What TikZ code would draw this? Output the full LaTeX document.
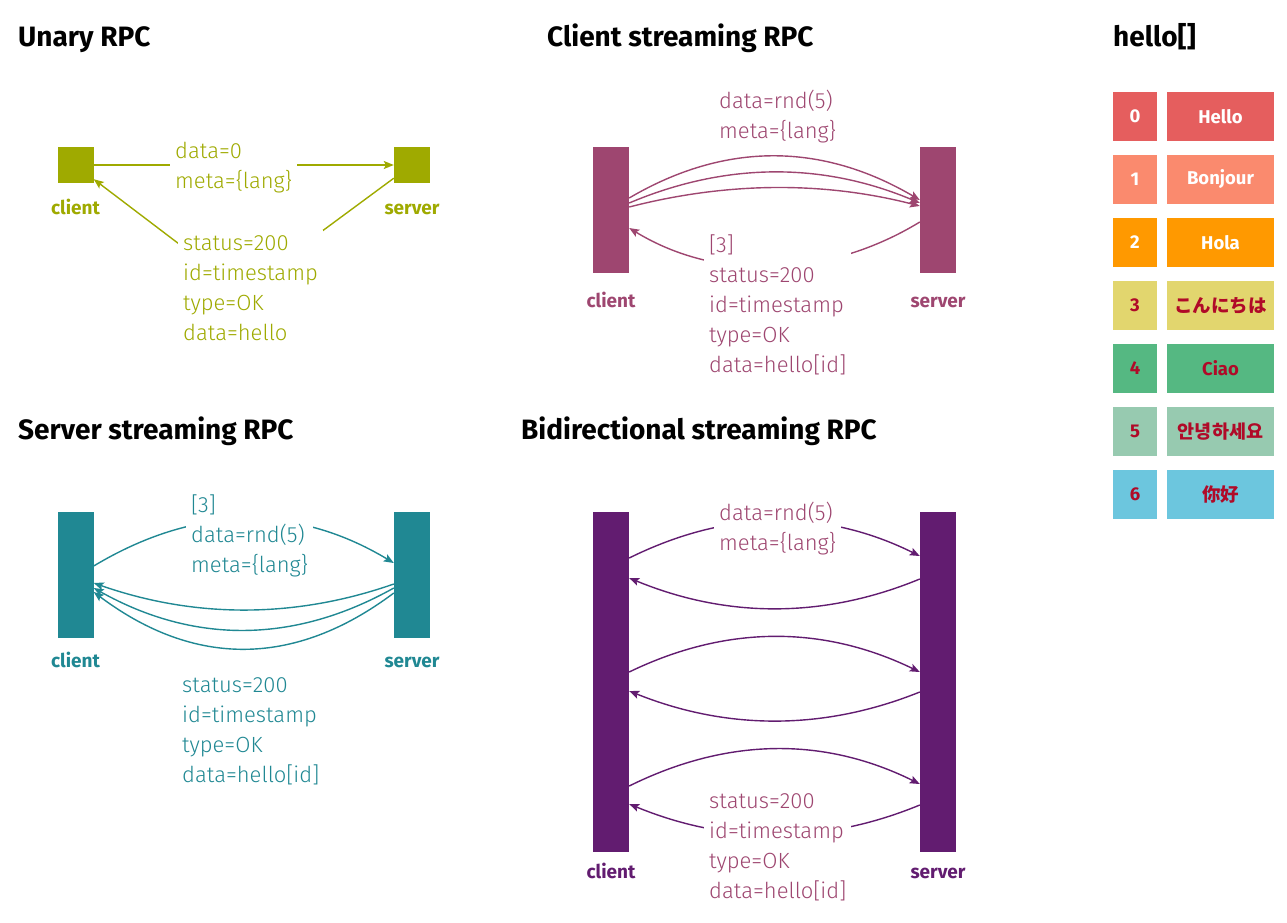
\documentclass[tikz,border=0pt]{standalone}
\usepackage{fontspec}
\setmainfont{Fira Sans Light}[BoldFont={Fira Sans Bold}]
\newfontfamily\cjk{Noto Sans CJK SC}
\usetikzlibrary{arrows.meta}
\definecolor{cUn}{RGB}{159,170,0}
\definecolor{cCs}{RGB}{158,70,112}
\definecolor{cSs}{RGB}{32,136,147}
\definecolor{cBi}{RGB}{98,28,112}
\definecolor{h0}{RGB}{229,94,94}
\definecolor{h1}{RGB}{250,138,110}
\definecolor{h2}{RGB}{255,153,0}
\definecolor{h3}{RGB}{226,214,110}
\definecolor{h4}{RGB}{85,184,130}
\definecolor{h5}{RGB}{151,202,176}
\definecolor{h6}{RGB}{108,198,222}
\definecolor{tRed}{RGB}{176,10,40}
\begin{document}
\begin{tikzpicture}[x=1pt,y=1pt,
 title/.style={anchor=base west, font=\bfseries\fontsize{28}{32}\selectfont, inner sep=0pt},
 actor/.style={draw=none, inner sep=0pt, minimum width=36pt},
 who/.style={anchor=base, font=\bfseries\fontsize{19}{22}\selectfont, inner sep=0pt},
 msg/.style={anchor=north west, align=left, font=\fontsize{22}{30}\selectfont, inner sep=5pt, fill=white},
 arr/.style={-{Stealth[length=10pt,width=8pt,inset=2pt]}, line width=1.4pt},
 cell/.style={minimum height=49pt, inner sep=0pt, font=\bfseries\fontsize{18.5}{22}\selectfont},
]
\useasboundingbox (0,0) rectangle (1287,-923);

% ---------------- Unary RPC
\node[title] (t1) at (18,-47) {Unary RPC};
\node[actor, fill=cUn, minimum height=36pt] (uc) at (75.5,-165) {};
\node[actor, fill=cUn, minimum height=36pt] (us) at (412,-165) {};
\node[who, text=cUn] (ucl) at (75.5,-214) {client};
\node[who, text=cUn] (usl) at (412,-214) {server};
\draw[arr, cUn] (uc) -- (us);
\node[msg, text=cUn] (um1) at (170,-137) {data=0\\meta=\{lang\}};
\coordinate (uv) at (241,-291);
\draw[arr, cUn] ([yshift=5pt]us.south west) -- (uv) -- ([yshift=4pt]uc.south east);
\node[msg, text=cUn] (um2) at (178,-230) {status=200\\id=timestamp\\type=OK\\data=hello};

% ---------------- Client streaming RPC
\node[title] (t2) at (547,-47) {Client streaming RPC};
\node[actor, fill=cCs, minimum height=126pt] (cc) at (611,-210) {};
\node[actor, fill=cCs, minimum height=126pt] (cs) at (938,-210) {};
\node[who, text=cCs] (ccl) at (611,-307) {client};
\node[who, text=cCs] (csl) at (938,-307) {server};
\node[msg, text=cCs] (cm1) at (714,-85) {data=rnd(5)\\meta=\{lang\}};
\draw[arr, cCs] ([yshift=12pt]cc.east) .. controls +(97,57) and +(-97,57) .. ([yshift=10pt]cs.west);
\draw[arr, cCs] ([yshift=7pt]cc.east) .. controls +(97,41) and +(-97,41) .. ([yshift=7pt]cs.west);
\draw[arr, cCs] ([yshift=3pt]cc.east) .. controls +(97,25) and +(-97,25) .. ([yshift=4pt]cs.west);
\draw[arr, cCs] ([yshift=-12pt]cs.west) .. controls +(-90,-55) and +(90,-55) .. ([yshift=-18pt]cc.east);
\node[msg, text=cCs] (cm2) at (704,-230) {[3]\\status=200\\id=timestamp\\type=OK\\data=hello[id]};

% ---------------- Server streaming RPC
\node[title] (t3) at (18,-439) {Server streaming RPC};
\node[actor, fill=cSs, minimum height=126pt] (sc) at (75.5,-575) {};
\node[actor, fill=cSs, minimum height=126pt] (ss) at (412,-575) {};
\node[who, text=cSs] (scl) at (75.5,-667) {client};
\node[who, text=cSs] (ssl) at (412,-667) {server};
\draw[arr, cSs] ([yshift=9pt]sc.east) .. controls +(100,60) and +(-100,60) .. ([yshift=12pt]ss.west);
\node[msg, text=cSs] (sm1) at (186,-490) {[3]\\data=rnd(5)\\meta=\{lang\}};
\draw[arr, cSs] ([yshift=-9pt]ss.west) .. controls +(-100,-35) and +(100,-35) .. ([yshift=-8pt]sc.east);
\draw[arr, cSs] ([yshift=-13pt]ss.west) .. controls +(-100,-56) and +(100,-56) .. ([yshift=-13pt]sc.east);
\draw[arr, cSs] ([yshift=-18pt]ss.west) .. controls +(-100,-75) and +(100,-75) .. ([yshift=-17pt]sc.east);
\node[msg, text=cSs, fill=none] (sm2) at (177,-672) {status=200\\id=timestamp\\type=OK\\data=hello[id]};

% ---------------- Bidirectional streaming RPC
\node[title] (t4) at (521,-439) {Bidirectional streaming RPC};
\node[actor, fill=cBi, minimum height=340pt] (bc) at (611,-682) {};
\node[actor, fill=cBi, minimum height=340pt] (bs) at (938,-682) {};
\node[who, text=cBi] (bcl) at (611,-878) {client};
\node[who, text=cBi] (bsl) at (938,-878) {server};
\draw[arr, cBi] ([yshift=124pt]bc.east) .. controls +(97,48) and +(-97,48) .. ([yshift=126pt]bs.west);
\draw[arr, cBi] ([yshift=103pt]bs.west) .. controls +(-97,-40) and +(97,-40) .. ([yshift=104pt]bc.east);
\draw[arr, cBi] ([yshift=10pt]bc.east) .. controls +(97,47) and +(-97,47) .. ([yshift=10pt]bs.west);
\draw[arr, cBi] ([yshift=-10pt]bs.west) .. controls +(-97,-39) and +(97,-39) .. ([yshift=-9pt]bc.east);
\draw[arr, cBi] ([yshift=-104pt]bc.east) .. controls +(97,48) and +(-97,48) .. ([yshift=-102pt]bs.west);
\draw[arr, cBi] ([yshift=-123pt]bs.west) .. controls +(-97,-40) and +(97,-40) .. ([yshift=-122pt]bc.east);
\node[msg, text=cCs] (bm1) at (714,-497) {data=rnd(5)\\meta=\{lang\}};
\node[msg, text=cCs] (bm2) at (704,-788) {status=200\\id=timestamp\\type=OK\\data=hello[id]};

% ---------------- hello[] table
\node[title] (t5) at (1113,-47) {hello[]};
\foreach \i/\c/\t/\w in {0/h0/white/Hello, 1/h1/white/Bonjour, 2/h2/white/Hola,
  3/h3/tRed/{\cjk こんにちは}, 4/h4/tRed/Ciao, 5/h5/tRed/{\cjk 안녕하세요}, 6/h6/tRed/{\cjk 你好}} {
  \node[cell, fill=\c, text=\t, minimum width=44pt] (i\i) at (1135,{-116.5-63*\i}) {\i};
  \node[cell, fill=\c, text=\t, minimum width=107pt] (v\i) at (1220.5,{-116.5-63*\i}) {\w};
}
\end{tikzpicture}
\end{document}
